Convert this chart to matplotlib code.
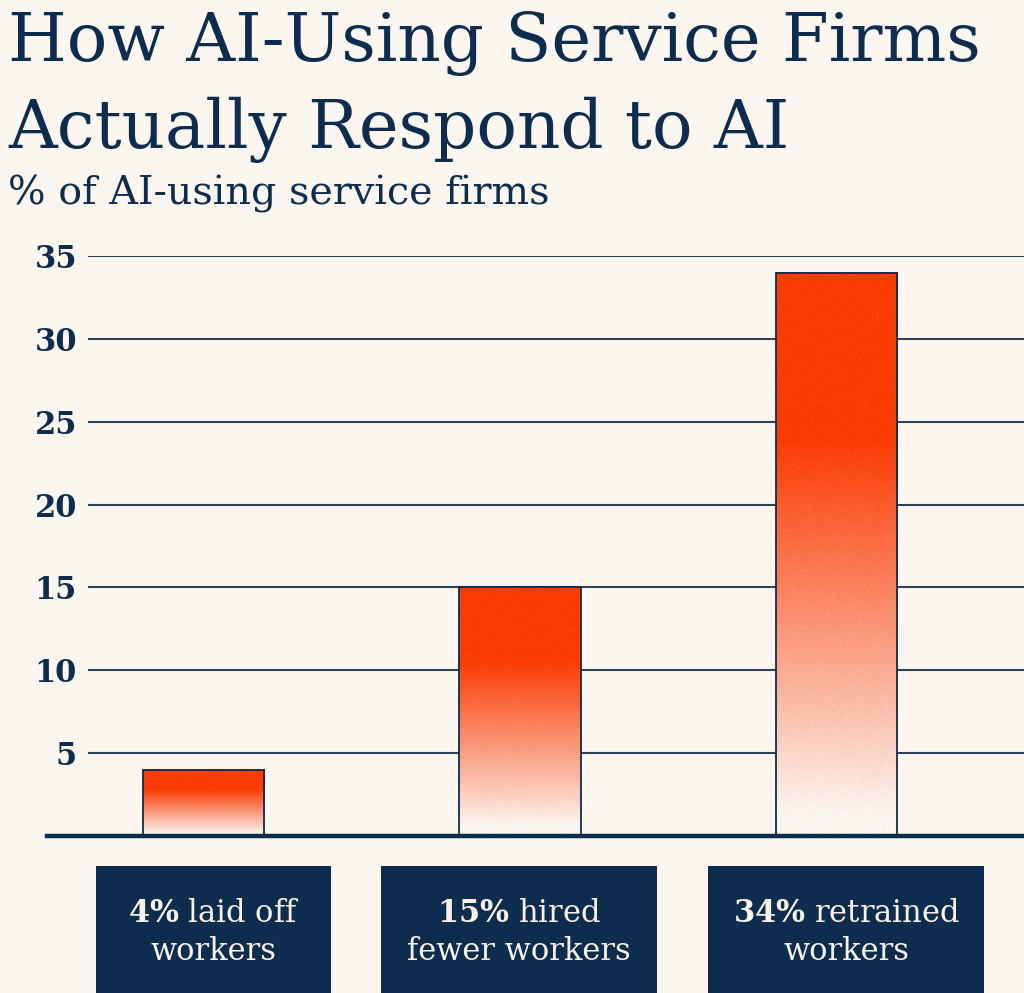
import numpy as np
import matplotlib
matplotlib.use("Agg")
import matplotlib.pyplot as plt
from matplotlib.patches import Rectangle

# data
values = [4, 15, 34]
bold_parts = ["4%", "15%", "34%"]
line1_rest = ["laid off", "hired", "retrained"]
line2 = ["workers", "fewer workers", "workers"]
yticks = [5, 10, 15, 20, 25, 30, 35]

NAVY = "#0e2c4d"
BG = "#fbf7f0"
RED = np.array([0.985, 0.235, 0.02])
PALE = np.array([0.99, 0.965, 0.945])

plt.rcParams["font.family"] = ["DejaVu Serif"]
plt.rcParams["mathtext.fontset"] = "dejavuserif"

W, H = 1024, 993
fig = plt.figure(figsize=(W / 100, H / 100), dpi=100, facecolor=BG)

def fx(px):
    return px / W

def fy(py):
    return 1 - py / H

# axes: left 88px, right edge, zero at y=836, 35 at y=256
ax = fig.add_axes([fx(88), fy(836), 1 - fx(88), fy(256) - fy(836)])
ax.set_facecolor(BG)

x = np.arange(len(values))
width = 0.383
rng = np.random.default_rng(3)
for xi, v in zip(x, values):
    n = 700
    t = np.linspace(1, 0, n)[:, None]
    f = np.clip((t - 0.04) / 0.66, 0, 1) ** 0.95
    img = PALE + (RED - PALE) * f[..., None]
    img = np.repeat(img, 150, axis=1)
    img = img + rng.normal(0, 0.022, img.shape)
    ax.imshow(np.clip(img, 0, 1), extent=[xi - width / 2, xi + width / 2, 0, v],
              aspect="auto", zorder=2, interpolation="antialiased")
ax.bar(x, values, width=width, facecolor="none", edgecolor=NAVY, linewidth=1.3, zorder=3)

ax.set_xlim(-0.366, 2.594)
ax.set_ylim(0, 35)
ax.set_yticks(yticks)
ax.set_yticklabels([str(t) for t in yticks], fontsize=22, fontweight="bold", color=NAVY)
ax.tick_params(axis="y", length=0, pad=8)
ax.set_xticks([])
ax.yaxis.grid(True, color="#2f4257", linewidth=1.5)
ax.set_axisbelow(True)
for s in ax.spines.values():
    s.set_visible(False)
ax.axhline(0, xmin=-0.044, xmax=1, color=NAVY, linewidth=3.2, clip_on=False, zorder=4)

# titles
fig.text(fx(8), fy(61), "How AI-Using Service Firms", fontsize=48.5, color=NAVY, va="baseline")
fig.text(fx(8), fy(148), "Actually Respond to AI", fontsize=48.5, color=NAVY, va="baseline")
fig.text(fx(8), fy(204), "% of AI-using service firms", fontsize=28.5, color=NAVY, va="baseline")

# label boxes
boxes = [(96, 331), (381, 657), (708, 984)]
for (l, r), b, rest, l2 in zip(boxes, bold_parts, line1_rest, line2):
    fig.patches.append(Rectangle((fx(l), 0), fx(r) - fx(l), fy(866), transform=fig.transFigure,
                                 facecolor=NAVY, edgecolor="none", zorder=1))
    cx = fx((l + r) / 2)
    b_tex = b.replace("%", r"\%")
    fig.text(cx, fy(922), r"$\mathbf{" + b_tex + "}$ " + rest, fontsize=22, color="#f8f3ea",
             ha="center", va="baseline", zorder=2)
    fig.text(cx, fy(960), l2, fontsize=22, color="#f8f3ea", ha="center", va="baseline", zorder=2)

fig.savefig("out.png", dpi=100, facecolor=BG)
